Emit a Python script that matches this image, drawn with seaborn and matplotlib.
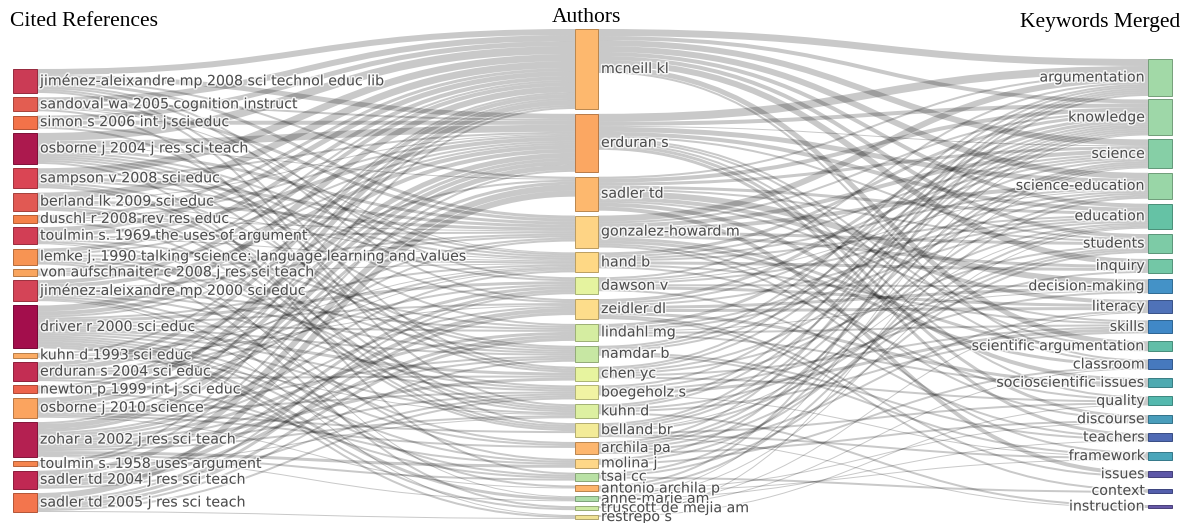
import matplotlib
matplotlib.use("Agg")
import matplotlib.pyplot as plt
from matplotlib.path import Path
from matplotlib.patches import PathPatch, Rectangle
import matplotlib.patheffects as pe
import matplotlib.colors as mcolors
import seaborn as sns

sns.set_theme(style="white")
plt.rcParams["font.family"] = ["DejaVu Sans"]

# ---- data -------------------------------------------------------------
refs = [
    "jiménez-aleixandre mp 2008 sci technol educ lib",
    "sandoval wa 2005 cognition instruct",
    "simon s 2006 int j sci educ",
    "osborne j 2004 j res sci teach",
    "sampson v 2008 sci educ",
    "berland lk 2009 sci educ",
    "duschl r 2008 rev res educ",
    "toulmin s. 1969 the uses of argument",
    "lemke j. 1990 talking science: language learning and values",
    "von aufschnaiter c 2008 j res sci teach",
    "jiménez-aleixandre mp 2000 sci educ",
    "driver r 2000 sci educ",
    "kuhn d 1993 sci educ",
    "erduran s 2004 sci educ",
    "newton p 1999 int j sci educ",
    "osborne j 2010 science",
    "zohar a 2002 j res sci teach",
    "toulmin s. 1958 uses argument",
    "sadler td 2004 j res sci teach",
    "sadler td 2005 j res sci teach",
]
ref_colors = [
    "#c9304c", "#e25448", "#f36a3f", "#a80c44", "#d83b4b",
    "#e0504a", "#f57a3f", "#d0334c", "#f78e4a", "#f9a055",
    "#d23a4e", "#9e0142", "#fba85d", "#c0214a", "#ec5b42",
    "#fb9f56", "#b01448", "#f57e45", "#bd1c4a", "#f36e43",
]

authors = [
    "mcneill kl", "erduran s", "sadler td", "gonzalez-howard m", "hand b",
    "dawson v", "zeidler dl", "lindahl mg", "namdar b", "chen yc",
    "boegeholz s", "kuhn d", "belland br", "archila pa", "molina j",
    "tsai cc", "antonio archila p", "anne-marie am", "truscott de mejia am",
    "restrepo s",
]
author_colors = [
    "#fdb466", "#fba25a", "#fdb466", "#fed27e", "#fed67f",
    "#e4f39a", "#fddc85", "#d3ed9c", "#c4e69e", "#e6f49a",
    "#f1f39e", "#dcf09c", "#f3ea93", "#fdb266", "#fed582",
    "#b6e0a0", "#fdb064", "#a9dba3", "#cbe89d", "#efe08f",
]

keywords = [
    "argumentation", "knowledge", "science", "science-education", "education",
    "students", "inquiry", "decision-making", "literacy", "skills",
    "scientific argumentation", "classroom", "socioscientific issues",
    "quality", "discourse", "teachers", "framework", "issues", "context",
    "instruction",
]
keyword_colors = [
    "#9dd7a2", "#99d5a3", "#80cda1", "#94d4a2", "#5dbfa0",
    "#76c9a1", "#6bc4a1", "#3a8cc4", "#456ab4", "#3682c4",
    "#59bba3", "#3c72bb", "#45a6ad", "#4bb4aa", "#3f98b8",
    "#4562b0", "#40a0b7", "#554fa3", "#4a55a8", "#5e4fa2",
]

# (cited reference, author, weight)
ref_author_links = [
    (0, 0, 3), (1, 0, 3), (2, 0, 2.5), (3, 0, 4), (4, 0, 3.5), (5, 0, 3.5),
    (6, 0, 1.5), (7, 0, 2.5), (8, 0, 2), (9, 0, 1), (10, 0, 2), (11, 0, 3),
    (12, 0, 1), (13, 0, 2), (14, 0, 1), (15, 0, 2.5), (16, 0, 1), (17, 0, 1),
    (0, 1, 2.5), (1, 1, 1), (2, 1, 2), (3, 1, 3.5), (4, 1, 1), (5, 1, 0.5),
    (6, 1, 1), (7, 1, 2), (8, 1, 1), (9, 1, 1), (10, 1, 2), (11, 1, 2),
    (13, 1, 2.5), (14, 1, 1.5), (15, 1, 2), (16, 1, 2.5), (17, 1, 1),
    (0, 2, 1), (3, 2, 0.5), (11, 2, 1), (16, 2, 1.5), (18, 2, 3), (19, 2, 3),
    (0, 3, 1.5), (1, 3, 1.5), (3, 3, 1.5), (4, 3, 1.5), (5, 3, 1.5),
    (6, 3, 0.5), (7, 3, 1), (9, 3, 1), (10, 3, 1), (13, 3, 1), (15, 3, 1),
    (1, 4, 0.5), (2, 4, 1), (3, 4, 1), (4, 4, 1), (5, 4, 0.5), (7, 4, 0.5),
    (8, 4, 1), (9, 4, 0.5), (11, 4, 1), (12, 4, 0.5), (13, 4, 1),
    (14, 4, 0.5), (16, 4, 1),
    (0, 5, 1), (3, 5, 1), (11, 5, 1.5), (13, 5, 1), (16, 5, 1.5),
    (18, 5, 1.5), (19, 5, 1),
    (0, 6, 1), (3, 6, 1), (11, 6, 1), (12, 6, 0.5), (16, 6, 1), (18, 6, 2),
    (19, 6, 1.5),
    (3, 7, 1), (7, 7, 1), (10, 7, 1), (11, 7, 1), (16, 7, 1.5), (18, 7, 1.5),
    (19, 7, 1.5),
    (4, 8, 1), (5, 8, 1), (8, 8, 1), (10, 8, 1), (11, 8, 1), (15, 8, 1),
    (16, 8, 1), (19, 8, 1),
    (0, 9, 1), (2, 9, 1), (3, 9, 1), (11, 9, 1.5), (13, 9, 1), (16, 9, 1.5),
    (8, 10, 1), (10, 10, 1), (11, 10, 1), (15, 10, 1), (16, 10, 1),
    (18, 10, 1), (19, 10, 1),
    (0, 11, 1), (4, 11, 1), (5, 11, 1), (7, 11, 1), (11, 11, 1),
    (12, 11, 0.5), (16, 11, 1), (17, 11, 0.5),
    (1, 12, 1), (4, 12, 1), (5, 12, 1), (6, 12, 1), (15, 12, 1),
    (10, 13, 1), (11, 13, 1), (15, 13, 1),
    (8, 14, 1), (11, 14, 1), (14, 14, 1), (16, 14, 1.5),
    (3, 15, 1), (11, 15, 1), (13, 15, 1), (16, 15, 1),
    (10, 16, 1), (15, 16, 0.5),
    (7, 17, 0.5), (11, 17, 1.5), (16, 17, 0.5),
    (8, 18, 1), (11, 18, 1),
    (10, 19, 0.5), (11, 19, 1), (19, 19, 0.5),
]

# (author, keyword, weight)
author_keyword_links = [
    (0, 0, 3.5), (0, 1, 2), (0, 2, 3), (0, 3, 3), (0, 4, 2), (0, 5, 2),
    (0, 6, 3), (0, 10, 2.5), (0, 11, 1),
    (1, 0, 4), (1, 1, 2), (1, 2, 0.5), (1, 3, 2.5), (1, 4, 2), (1, 5, 1),
    (1, 10, 1), (1, 11, 1), (1, 13, 1), (1, 14, 1.5), (1, 15, 1.5),
    (2, 0, 1), (2, 1, 2), (2, 2, 1.5), (2, 4, 1.5), (2, 5, 1), (2, 7, 3),
    (2, 8, 2), (2, 9, 1), (2, 12, 2), (2, 17, 2),
    (3, 0, 3), (3, 1, 1), (3, 2, 2), (3, 3, 2), (3, 5, 1.5), (3, 6, 1.5),
    (3, 10, 1.5), (3, 11, 1.5), (3, 14, 1), (3, 16, 1),
    (4, 1, 1.5), (4, 2, 1), (4, 3, 1), (4, 4, 1), (4, 6, 1.5), (4, 9, 1),
    (4, 13, 1),
    (5, 0, 1), (5, 2, 1), (5, 3, 0.5), (5, 4, 1), (5, 7, 1), (5, 8, 1.5),
    (5, 15, 1),
    (6, 1, 1.5), (6, 2, 1), (6, 4, 1), (6, 7, 1.5), (6, 8, 1.5), (6, 12, 1.5),
    (6, 17, 1), (6, 18, 1),
    (7, 1, 1.5), (7, 3, 1), (7, 4, 1), (7, 7, 0.5), (7, 9, 1), (7, 12, 1),
    (8, 0, 1), (8, 1, 1), (8, 2, 1), (8, 15, 1), (8, 16, 1),
    (9, 0, 1), (9, 1, 1), (9, 3, 1), (9, 5, 1), (9, 9, 1), (9, 13, 1),
    (10, 1, 1), (10, 4, 1), (10, 7, 1), (10, 9, 1.5), (10, 16, 0.5),
    (11, 0, 1), (11, 1, 1), (11, 6, 1), (11, 9, 1), (11, 19, 1),
    (12, 0, 1), (12, 1, 1), (12, 2, 1), (12, 4, 0.5), (12, 5, 1),
    (12, 13, 1), (12, 16, 1), (12, 19, 0.5),
    (13, 0, 1), (13, 2, 1), (13, 3, 1), (13, 5, 1), (13, 8, 1), (13, 14, 1),
    (14, 1, 1), (14, 4, 1), (14, 11, 1),
    (15, 2, 1), (15, 5, 1), (15, 18, 1),
    (16, 0, 1), (16, 3, 1), (16, 14, 0.5), (16, 16, 0.5),
    (17, 1, 0.5), (17, 4, 0.5), (17, 15, 0.5),
    (18, 8, 0.5), (18, 11, 0.5),
    (19, 2, 0.5), (19, 13, 0.5),
]

titles = ["Cited References", "Authors", "Keywords Merged"]

# ---- layout -----------------------------------------------------------
W, H = 1189, 523
KY = 2.0  # pixels per unit of weight

def sums(links, n, side):
    out = [0.0] * n
    for s, t, v in links:
        out[s if side == 0 else t] += v
    return out

ref_out = sums(ref_author_links, len(refs), 0)
auth_in = sums(ref_author_links, len(authors), 1)
auth_out = sums(author_keyword_links, len(authors), 0)
kw_in = sums(author_keyword_links, len(keywords), 1)
auth_val = [max(a, b) for a, b in zip(auth_in, auth_out)]

# 'spread' lets the gaps between nodes widen towards the bottom of a column
columns = [
    dict(names=refs, colors=ref_colors, values=ref_out, x0=13, w=24, top=69, bottom=512, spread=0.0),
    dict(names=authors, colors=author_colors, values=auth_val, x0=575, w=23, top=29, bottom=519, spread=0.0),
    dict(names=keywords, colors=keyword_colors, values=kw_in, x0=1148, w=24, top=59, bottom=508, spread=0.14),
]

for col in columns:
    vals = col["values"]
    n = len(vals)
    free = col["bottom"] - col["top"] - sum(vals) * KY
    weights = [1 + col["spread"] * i for i in range(n - 1)]
    gaps = [free * g / sum(weights) for g in weights] + [0]
    ys, y = [], col["top"]
    for v, g in zip(vals, gaps):
        ys.append(y)
        y += v * KY + g
    col["y"] = ys

fig = plt.figure(figsize=(W / 100, H / 100), dpi=100)
ax = fig.add_axes([0, 0, 1, 1])
ax.set_xlim(0, W)
ax.set_ylim(H, 0)
ax.axis("off")

PT = 72 / 100  # points per pixel


def draw_links(links, left, right):
    # stacking offsets: at source ordered by target, at target ordered by source
    src_off = [0.0] * len(left["values"])
    tgt_off = [0.0] * len(right["values"])
    start = {}
    for s, t, v in sorted(links, key=lambda l: (l[0], l[1])):
        start[(s, t)] = left["y"][s] + src_off[s]
        src_off[s] += v * KY
    end = {}
    for s, t, v in sorted(links, key=lambda l: (l[1], l[0])):
        end[(s, t)] = right["y"][t] + tgt_off[t]
        tgt_off[t] += v * KY
    x0 = left["x0"] + left["w"]
    x1 = right["x0"]
    xm = (x0 + x1) / 2
    for s, t, v in links:
        w = v * KY
        y0 = start[(s, t)] + w / 2
        y1 = end[(s, t)] + w / 2
        path = Path([(x0, y0), (xm, y0), (xm, y1), (x1, y1)],
                    [Path.MOVETO, Path.CURVE4, Path.CURVE4, Path.CURVE4])
        ax.add_patch(PathPatch(path, fill=False, edgecolor=(0, 0, 0, 0.21),
                               lw=max(1.0, w) * PT, capstyle="butt", zorder=1))


draw_links(ref_author_links, columns[0], columns[1])
draw_links(author_keyword_links, columns[1], columns[2])

halo = [pe.withStroke(linewidth=2.2, foreground=(1, 1, 1, 0.8))]
LABEL_SIZE = 10.2

for ci, col in enumerate(columns):
    for name, color, v, y in zip(col["names"], col["colors"], col["values"], col["y"]):
        h = v * KY
        rgb = mcolors.to_rgb(color)
        edge = tuple(c * 0.72 for c in rgb)
        ax.add_patch(Rectangle((col["x0"], y), col["w"], h, facecolor=color,
                               edgecolor=edge, lw=0.7, alpha=0.95, zorder=3))
        if ci == 2:
            ax.text(col["x0"] - 3, y + h / 2, name, ha="right", va="center",
                    fontsize=LABEL_SIZE, color="#4d4d4d", path_effects=halo, zorder=4)
        else:
            ax.text(col["x0"] + col["w"] + 3, y + h / 2, name, ha="left", va="center",
                    fontsize=LABEL_SIZE, color="#4d4d4d", path_effects=halo, zorder=4)

title_font = dict(family="Liberation Serif", fontsize=15.5, color="black", va="center")
ax.text(10, 21, titles[0], ha="left", **title_font)
ax.text(586, 18, titles[1], ha="center", **title_font)
ax.text(1180, 23, titles[2], ha="right", **title_font)

fig.savefig("out.png", dpi=100)
